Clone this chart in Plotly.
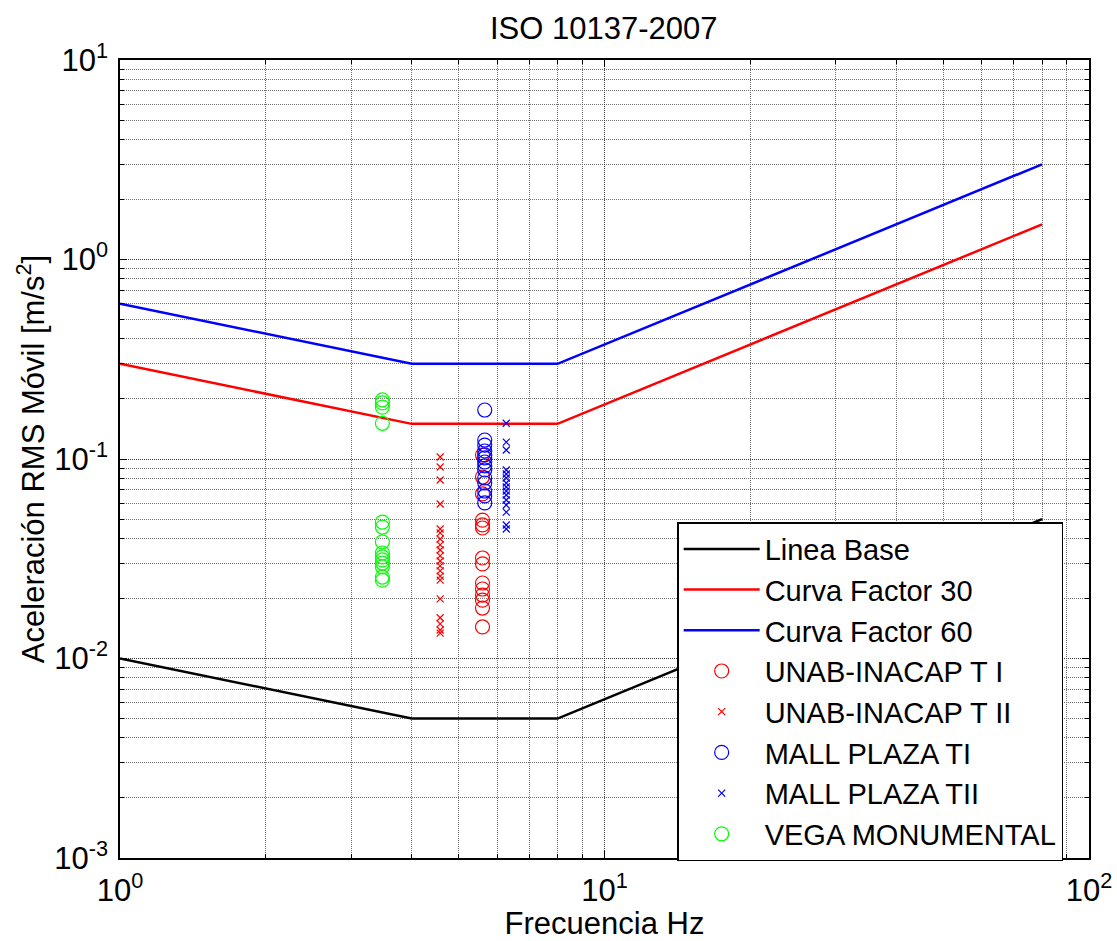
import plotly.graph_objects as go

# ISO 10137 reference curves (frequency in Hz, RMS acceleration in m/s^2)
freq_curve = [1, 4, 8, 80]
linea_base = [0.01, 0.005, 0.005, 0.05]
curva_30 = [0.3, 0.15, 0.15, 1.5]
curva_60 = [0.6, 0.3, 0.3, 3.0]

# Measured RMS accelerations per site/stage
f_unab_t1 = 5.60
unab_t1 = [0.1047, 0.0812, 0.0668, 0.0494, 0.0467, 0.0451, 0.0319, 0.0298,
           0.0239, 0.0223, 0.0208, 0.0196, 0.0179, 0.0144]

f_unab_t2 = 4.58
unab_t2 = [0.1023, 0.0912, 0.0785, 0.0595, 0.0446, 0.0426, 0.0397, 0.0371,
           0.0350, 0.0327, 0.0308, 0.0291, 0.0275, 0.0259, 0.0247, 0.0199,
           0.0160, 0.0149, 0.0139, 0.0134]

f_mall_t1 = 5.66
mall_t1 = [0.176, 0.1245, 0.1175, 0.1097, 0.1048, 0.1012, 0.0966, 0.0923,
           0.0881, 0.0803, 0.0758, 0.0691, 0.0653, 0.0602]

f_mall_t2 = 6.27
mall_t2 = [0.151, 0.1216, 0.1109, 0.0881, 0.0841, 0.0803, 0.0758, 0.0724,
           0.0691, 0.0660, 0.0623, 0.0588, 0.0542, 0.0467, 0.0446]

f_vega = 3.48
vega = [0.198, 0.191, 0.182, 0.151, 0.0483, 0.0456, 0.0384, 0.0338, 0.0323,
        0.0312, 0.0301, 0.0288, 0.0256, 0.0247]

x_ticks = [1, 10, 100]
x_ticktext = ["10<sup>0</sup>", "10<sup>1</sup>", "10<sup>2</sup>"]
y_ticks = [0.001, 0.01, 0.1, 1, 10]
y_ticktext = ["10<sup>-3</sup>", "10<sup>-2</sup>", "10<sup>-1</sup>",
              "10<sup>0</sup>", "10<sup>1</sup>"]

FONT = "Liberation Sans, Arial, Helvetica, sans-serif"
FS = 31
FS_LEG = 29


def minor_vals(lo_exp, hi_exp):
    return [m * 10 ** e for e in range(lo_exp, hi_exp) for m in range(2, 10)]


fig = go.Figure()

fig.add_trace(go.Scatter(x=freq_curve, y=linea_base, mode="lines",
                         name="Linea Base", line=dict(color="black", width=2.5)))
fig.add_trace(go.Scatter(x=freq_curve, y=curva_30, mode="lines",
                         name="Curva Factor 30", line=dict(color="#ff0000", width=2.5)))
fig.add_trace(go.Scatter(x=freq_curve, y=curva_60, mode="lines",
                         name="Curva Factor 60", line=dict(color="#0000ff", width=2.5)))

circle = dict(symbol="circle-open", size=14, line=dict(width=1.2))
cross = dict(symbol="x-thin-open", size=7, line=dict(width=1.2))

fig.add_trace(go.Scatter(x=[f_unab_t1] * len(unab_t1), y=unab_t1, mode="markers",
                         name="UNAB-INACAP T I",
                         marker=dict(circle, color="#ff0000")))
fig.add_trace(go.Scatter(x=[f_unab_t2] * len(unab_t2), y=unab_t2, mode="markers",
                         name="UNAB-INACAP T II",
                         marker=dict(cross, color="#ff0000")))
fig.add_trace(go.Scatter(x=[f_mall_t1] * len(mall_t1), y=mall_t1, mode="markers",
                         name="MALL PLAZA TI",
                         marker=dict(circle, color="#0000ff")))
fig.add_trace(go.Scatter(x=[f_mall_t2] * len(mall_t2), y=mall_t2, mode="markers",
                         name="MALL PLAZA TII",
                         marker=dict(cross, color="#0000ff")))
fig.add_trace(go.Scatter(x=[f_vega] * len(vega), y=vega, mode="markers",
                         name="VEGA MONUMENTAL",
                         marker=dict(circle, color="#00ff00")))

axis_common = dict(
    type="log", automargin=False,
    showline=True, linecolor="black", linewidth=1.5, mirror="allticks",
    ticks="inside", ticklen=7, tickcolor="black", tickwidth=1,
    showgrid=True, gridcolor="#3a3a3a", gridwidth=1, griddash="1px,1px",
    zeroline=False,
    tickfont=dict(family=FONT, size=FS, color="black"),
)
minor_common = dict(tickmode="array", ticks="inside", ticklen=4,
                    tickcolor="black", showgrid=True, gridcolor="#707070",
                    griddash="1px,1px", gridwidth=1)

fig.update_xaxes(
    **axis_common,
    range=[0, 2],
    tickmode="array", tickvals=x_ticks, ticktext=x_ticktext,
    ticklabelstandoff=4,
    minor=dict(minor_common, tickvals=minor_vals(0, 2)),
    title=dict(text="Frecuencia Hz", font=dict(family=FONT, size=FS, color="black"),
               standoff=7),
)
fig.update_yaxes(
    **axis_common,
    range=[-3, 1],
    tickmode="array", tickvals=y_ticks, ticktext=y_ticktext,
    ticklabelstandoff=4,
    minor=dict(minor_common, tickvals=minor_vals(-3, 1)),
    title=dict(text="Aceleración RMS Móvil [m/s<sup>2</sup>]",
               font=dict(family=FONT, size=FS, color="black"), standoff=0),
)

fig.update_layout(
    width=1117, height=941,
    margin=dict(l=120, r=28, t=60, b=83),
    paper_bgcolor="white", plot_bgcolor="white",
    font=dict(family=FONT, size=FS, color="black"),
    title=dict(text="ISO 10137-2007", x=0.5405, xanchor="center",
               y=1 - 28 / 941, yanchor="middle", yref="container",
               font=dict(family=FONT, size=FS, color="black")),
    showlegend=True,
    legend=dict(x=0.575, y=0.421, xanchor="left", yanchor="top",
                bgcolor="white", bordercolor="black", borderwidth=1.5,
                font=dict(family=FONT, size=FS_LEG, color="black"),
                itemwidth=76, tracegroupgap=0),
)

fig.write_html("out.html")
